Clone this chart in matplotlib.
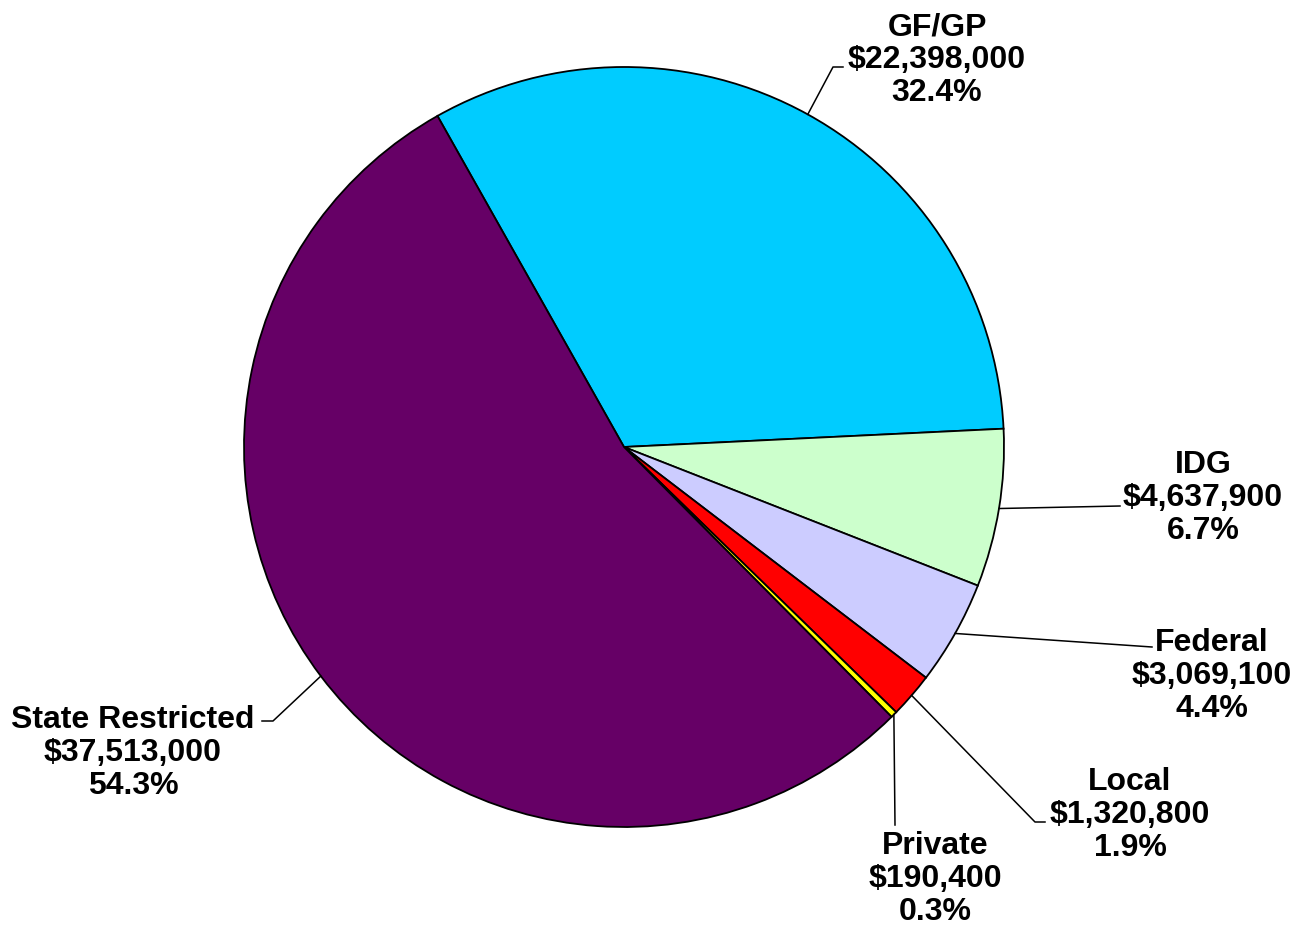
import matplotlib
matplotlib.use('Agg')
import matplotlib.pyplot as plt
import numpy as np

# funding sources, clockwise from the top
sources = ['GF/GP', 'IDG', 'Federal', 'Local', 'Private', 'State Restricted']
amounts = [22398000, 4637900, 3069100, 1320800, 190400, 37513000]
colors = ['#00CCFF', '#CCFFCC', '#CCCCFF', '#FF0000', '#FFFF00', '#660066']

# label block centre and leader-line path (pixels, y down from top)
label_xy = [(937, 60), (1203, 498), (1212, 676), (1130, 815), (935, 879), (133, 753)]
leader = [[(833, 68), (843, 68)],
          [(1120, 507)],
          [(1152, 648)],
          [(1035, 823), (1045, 823)],
          [(895, 826)],
          [(273, 722), (262, 722)]]

W, H = 1301, 928
fig = plt.figure(figsize=(W / 100, H / 100), dpi=100)
ax = fig.add_axes([0, 0, 1, 1])

cx, cy, r = 624, H - 448, 380
total = sum(amounts)
wedges, _ = ax.pie(amounts, colors=colors, startangle=119.4, counterclock=False,
                   center=(cx, cy), radius=r, frame=True,
                   wedgeprops=dict(edgecolor='black', linewidth=1.3))
ax.set_xlim(0, W)
ax.set_ylim(0, H)
ax.axis('off')

for w, name, amt, (tx, ty), path in zip(wedges, sources, amounts, label_xy, leader):
    mid = np.deg2rad((w.theta1 + w.theta2) / 2)
    ex, ey = cx + r * np.cos(mid), cy + r * np.sin(mid)
    xs = [ex] + [p[0] for p in path]
    ys = [ey] + [H - p[1] for p in path]
    ax.plot(xs, ys, color='black', linewidth=1.1)
    pct = 100 * amt / total
    ax.text(tx, H - ty, f'{name}\n${amt:,}\n{pct:.1f}%', ha='center', va='center',
            fontsize=23, fontweight='bold', linespacing=1.13,
            family=['Liberation Sans', 'DejaVu Sans'])

fig.savefig('out.png', dpi=100, facecolor='white')
